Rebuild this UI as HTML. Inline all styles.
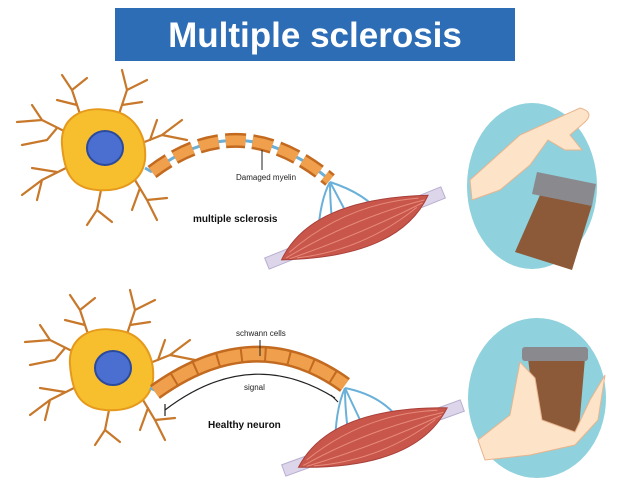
<!DOCTYPE html>
<html><head><meta charset="utf-8"><style>
html,body{margin:0;padding:0;background:#fff;}
svg{display:block;font-family:"Liberation Sans",sans-serif;}
</style></head><body>
<svg width="626" height="488" viewBox="0 0 626 488">
<defs>
<g id="cell">
  <g stroke="#c8782a" stroke-width="2.2" fill="none" stroke-linecap="round">
    <path d="M-30,-15 L-60,-30 L-85,-28 M-60,-30 L-70,-45 M-45,-22 L-55,-10 L-80,-5"/>
    <path d="M-20,-30 L-30,-60 L-40,-75 M-30,-60 L-15,-72 M-25,-45 L-45,-50"/>
    <path d="M15,-30 L25,-60 L20,-80 M25,-60 L45,-70 M20,-45 L40,-48"/>
    <path d="M35,-5 L60,-15 L80,-30 M60,-15 L85,-10 M48,-10 L55,-30"/>
    <path d="M30,25 L45,50 L55,70 M45,50 L65,48 M38,38 L30,60"/>
    <path d="M0,35 L-5,60 L-15,75 M-5,60 L10,72"/>
    <path d="M-30,15 L-60,30 L-80,45 M-60,30 L-65,50 M-45,22 L-70,18"/>
  </g>
  <path d="M-40,-5 C-42,-32 -20,-44 5,-40 C32,-38 45,-15 43,10 C40,32 20,42 -5,40 C-32,38 -38,20 -40,-5Z" fill="#f7be2e" stroke="#e59a1c" stroke-width="2"/>
  <ellipse cx="3" cy="-2" rx="18" ry="17" fill="#4a6fd0" stroke="#2c4a9c" stroke-width="2"/>
</g>
<g id="muscle">
  <rect x="-95" y="-6" width="25" height="12" fill="#ddd6ea" stroke="#b8aed0"/>
  <rect x="70" y="-6" width="25" height="12" fill="#ddd6ea" stroke="#b8aed0"/>
  <path d="M-80,2 Q-30,-44 80,-3 Q30,44 -80,2Z" fill="#c9564a" stroke="#a8403a"/>
  <g stroke="#e58a7c" stroke-width="1" fill="none">
    <path d="M-70,-2 Q0,-26 70,-4"/><path d="M-75,2 Q0,-10 75,0"/><path d="M-72,4 Q0,8 72,2"/><path d="M-65,6 Q0,24 65,4"/>
  </g>
</g>
</defs>

<rect x="115" y="8" width="400" height="53" fill="#2d6db6"/>
<text x="315" y="47" text-anchor="middle" font-size="35" font-weight="bold" fill="#fff">Multiple sclerosis</text>

<use href="#cell" x="102" y="150"/>
<path d="M145,168 L152,172" stroke="#6ab0d8" stroke-width="3"/>
<path d="M152,172 Q240,105 330,180" fill="none" stroke="#6ab0d8" stroke-width="3"/>
<path d="M152,172 Q240,105 330,180" fill="none" stroke="#c26a20" stroke-width="15" stroke-dasharray="20 7"/>
<path d="M152,172 Q240,105 330,180" fill="none" stroke="#f0a04c" stroke-width="10" stroke-dasharray="20 7"/>
<line x1="262" y1="150" x2="262" y2="170" stroke="#222" stroke-width="1"/>
<text x="236" y="180" font-size="8" fill="#222">Damaged myelin</text>
<text x="193" y="222" font-size="10" font-weight="bold" fill="#111">multiple sclerosis</text>
<g stroke="#6ab0d8" stroke-width="2" fill="none"><path d="M330,182 Q320,200 318,235"/><path d="M330,182 Q330,210 335,245"/><path d="M330,182 Q345,210 355,230"/><path d="M330,182 Q370,195 385,220"/></g>
<use href="#muscle" transform="translate(355,228) rotate(-22)"/>

<ellipse cx="532" cy="186" rx="65" ry="83" fill="#8fd1dc"/>
<path d="M470,180 L520,135 L580,108 Q595,112 585,122 L570,135 L582,150 L565,150 L548,140 L530,165 L500,190 L472,200Z" fill="#fde3c8" stroke="#e8b58e"/>
<path d="M540,195 L592,205 L572,270 L515,252Z" fill="#8c5a38"/>
<path d="M537,172 L596,184 L592,206 L532,194Z" fill="#8a8a8e"/>

<use href="#cell" x="110" y="370"/>
<path d="M150,388 L160,392" stroke="#6ab0d8" stroke-width="3"/>
<path d="M155,392 Q255,320 345,385" fill="none" stroke="#c26a20" stroke-width="17"/>
<path d="M155,392 Q255,320 345,385" fill="none" stroke="#f0a04c" stroke-width="12" stroke-dasharray="22 2"/>
<line x1="260" y1="340" x2="260" y2="356" stroke="#222"/>
<text x="236" y="336" font-size="8" fill="#222">schwann cells</text>
<text x="244" y="390" font-size="8" fill="#222">signal</text>
<path d="M165,410 Q250,345 335,398" fill="none" stroke="#222" stroke-width="1.2"/>
<path d="M165,404 L165,416 M331,395 L338,402" stroke="#222" stroke-width="1.2"/>
<text x="208" y="428" font-size="10" font-weight="bold" fill="#111">Healthy neuron</text>
<g stroke="#6ab0d8" stroke-width="2" fill="none"><path d="M345,388 Q335,410 335,450"/><path d="M345,388 Q345,420 352,455"/><path d="M345,388 Q360,420 372,445"/><path d="M345,388 Q380,395 398,418"/></g>
<use href="#muscle" transform="translate(373,438) rotate(-20)"/>

<ellipse cx="537" cy="398" rx="69" ry="80" fill="#8fd1dc"/>
<path d="M528,358 L585,358 L578,440 L538,440Z" fill="#8c5a38"/>
<rect x="522" y="347" width="66" height="14" rx="3" fill="#8a8a8e"/>
<path d="M478,440 L510,415 L520,362 L535,378 L542,420 L575,432 L590,400 L605,375 L598,420 L575,445 L530,455 L485,460Z" fill="#fde3c8" stroke="#e8b58e"/>
</svg>
</body></html>
